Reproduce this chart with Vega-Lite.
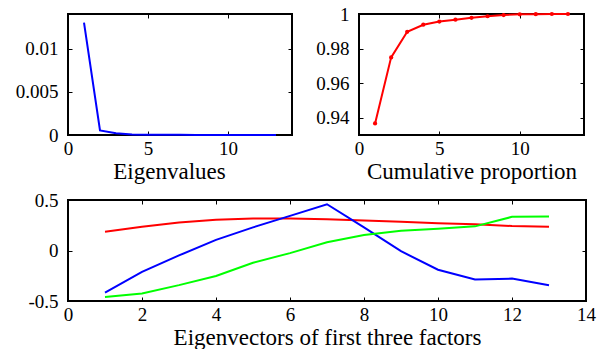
{
  "$schema": "https://vega.github.io/schema/vega-lite/v6.json",
  "padding": {"left": 14, "top": 4, "right": 5, "bottom": 2},
  "background": "white",
  "datasets": {
    "pca": [
      {"k": 1, "eig": 0.0130, "cum": 0.9367, "f1": 0.186, "f2": -0.418, "f3": -0.461},
      {"k": 2, "eig": 0.00053, "cum": 0.9749, "f1": 0.235, "f2": -0.212, "f3": -0.425},
      {"k": 3, "eig": 0.000205, "cum": 0.9897, "f1": 0.278, "f2": -0.049, "f3": -0.343},
      {"k": 4, "eig": 0.000057, "cum": 0.9938, "f1": 0.304, "f2": 0.105, "f3": -0.252},
      {"k": 5, "eig": 0.000025, "cum": 0.9956, "f1": 0.317, "f2": 0.229, "f3": -0.121},
      {"k": 6, "eig": 0.000015, "cum": 0.9967, "f1": 0.317, "f2": 0.343, "f3": -0.026},
      {"k": 7, "eig": 0.000015, "cum": 0.9978, "f1": 0.310, "f2": 0.458, "f3": 0.082},
      {"k": 8, "eig": 0.000012, "cum": 0.9987, "f1": 0.297, "f2": 0.229, "f3": 0.154},
      {"k": 9, "eig": 0.00001, "cum": 0.9994, "f1": 0.284, "f2": -0.007, "f3": 0.196},
      {"k": 10, "eig": 0.000006, "cum": 0.9998, "f1": 0.271, "f2": -0.190, "f3": 0.216},
      {"k": 11, "eig": 0.0000015, "cum": 0.9999, "f1": 0.261, "f2": -0.288, "f3": 0.239},
      {"k": 12, "eig": 0.0000014, "cum": 1.0, "f1": 0.242, "f2": -0.278, "f3": 0.333},
      {"k": 13, "eig": 0.0000005, "cum": 1.0, "f1": 0.235, "f2": -0.343, "f3": 0.337}
    ]
  },
  "config": {
    "view": {"stroke": "black", "strokeWidth": 2},
    "font": "Liberation Serif",
    "axis": {
      "grid": false,
      "domain": false,
      "labelFont": "Liberation Serif",
      "labelFontSize": 19,
      "labelColor": "black",
      "titleFont": "Liberation Serif",
      "titleFontSize": 23,
      "titleFontWeight": "normal",
      "titleColor": "black",
      "tickColor": "black",
      "tickSize": 4,
      "offset": -4,
      "tickWidth": 1,
      "labelFlush": false,
      "labelOverlap": false
    },
    "axisY": {"labelPadding": 10},
    "axisX": {"labelPadding": 4, "titlePadding": 2}
  },
  "spacing": 6,
  "vconcat": [
    {
      "spacing": 20,
      "hconcat": [
        {
          "width": 224,
          "height": 121,
          "data": {"name": "pca"},
          "resolve": {"axis": {"x": "independent", "y": "independent"}},
          "layer": [
            {
              "mark": {"type": "line", "color": "#0000ff", "strokeWidth": 2},
              "encoding": {
                "x": {"field": "k", "type": "quantitative", "scale": {"domain": [0, 14], "nice": false}, "axis": {"orient": "bottom", "values": [0, 5, 10], "title": "Eigenvalues", "titleX": 101}},
                "y": {"field": "eig", "type": "quantitative", "scale": {"domain": [0, 0.014], "nice": false}, "axis": {"orient": "left", "values": [0, 0.005, 0.01], "labelExpr": "'' + datum.value", "title": null}}
              }
            },
            {
              "mark": {"type": "line", "opacity": 0},
              "encoding": {
                "x": {"field": "k", "type": "quantitative", "axis": {"orient": "top", "values": [0, 5, 10], "labels": false, "title": null}},
                "y": {"field": "eig", "type": "quantitative", "axis": {"orient": "right", "values": [0, 0.005, 0.01], "labels": false, "title": null}}
              }
            }
          ]
        },
        {
          "width": 225,
          "height": 121,
          "data": {"name": "pca"},
          "resolve": {"axis": {"x": "independent", "y": "independent"}},
          "layer": [
            {
              "mark": {"type": "line", "color": "#ff0000", "strokeWidth": 2, "point": {"filled": true, "size": 18, "color": "#ff0000"}},
              "encoding": {
                "x": {"field": "k", "type": "quantitative", "scale": {"domain": [0, 14], "nice": false}, "axis": {"orient": "bottom", "values": [0, 5, 10], "title": "Cumulative proportion"}},
                "y": {"field": "cum", "type": "quantitative", "scale": {"domain": [0.93, 1], "nice": false, "zero": false}, "axis": {"orient": "left", "values": [0.94, 0.96, 0.98, 1], "labelExpr": "'' + datum.value", "title": null}}
              }
            },
            {
              "mark": {"type": "line", "opacity": 0},
              "encoding": {
                "x": {"field": "k", "type": "quantitative", "axis": {"orient": "top", "values": [0, 5, 10], "labels": false, "title": null}},
                "y": {"field": "cum", "type": "quantitative", "axis": {"orient": "right", "values": [0.94, 0.96, 0.98, 1], "labels": false, "title": null}}
              }
            }
          ]
        }
      ]
    },
    {
      "width": 518,
      "height": 101,
      "data": {"name": "pca"},
      "resolve": {"axis": {"x": "independent", "y": "independent"}},
      "layer": [
        {
          "mark": {"type": "line", "color": "#ff0000", "strokeWidth": 2},
          "encoding": {
            "x": {"field": "k", "type": "quantitative", "scale": {"domain": [0, 14], "nice": false}, "axis": {"orient": "bottom", "values": [0, 2, 4, 6, 8, 10, 12, 14], "title": "Eigenvectors of first three factors"}},
            "y": {"field": "f1", "type": "quantitative", "scale": {"domain": [-0.5, 0.5], "nice": false}, "axis": {"orient": "left", "values": [-0.5, 0, 0.5], "labelExpr": "'' + datum.value", "title": null}}
          }
        },
        {
          "mark": {"type": "line", "color": "#0000ff", "strokeWidth": 2},
          "encoding": {
            "x": {"field": "k", "type": "quantitative", "axis": null},
            "y": {"field": "f2", "type": "quantitative", "axis": null}
          }
        },
        {
          "mark": {"type": "line", "color": "#00ff00", "strokeWidth": 2},
          "encoding": {
            "x": {"field": "k", "type": "quantitative", "axis": null},
            "y": {"field": "f3", "type": "quantitative", "axis": null}
          }
        },
        {
          "mark": {"type": "line", "opacity": 0},
          "encoding": {
            "x": {"field": "k", "type": "quantitative", "axis": {"orient": "top", "values": [0, 2, 4, 6, 8, 10, 12, 14], "labels": false, "title": null}},
            "y": {"field": "f1", "type": "quantitative", "axis": {"orient": "right", "values": [-0.5, 0, 0.5], "labels": false, "title": null}}
          }
        }
      ]
    }
  ]
}
